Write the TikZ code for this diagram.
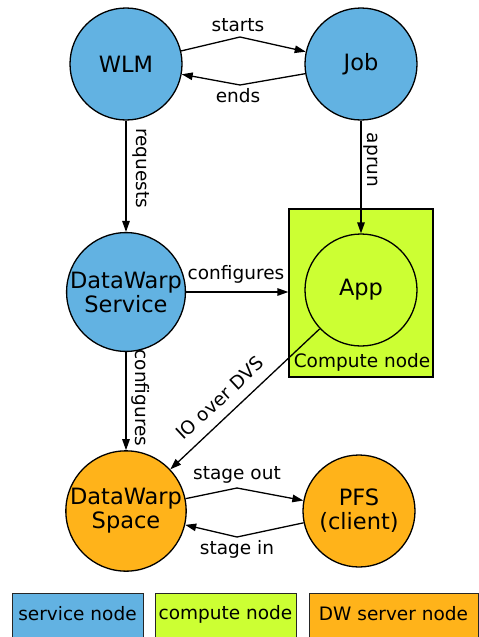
\documentclass[tikz,border=0pt]{standalone}
\usepackage{fontspec}
\setmainfont{DejaVu Sans}
\usetikzlibrary{arrows.meta}
\definecolor{svcblue}{HTML}{62B2E2}
\definecolor{cmplime}{HTML}{CCFF33}
\definecolor{dworange}{HTML}{FFB31A}
\tikzset{
  bignode/.style={circle, draw=black, line width=1.3pt, minimum size=112pt, inner sep=0pt, align=center, font=\fontsize{22.5}{24}\selectfont},
  conn/.style={line width=1.3pt, -{Triangle[length=11pt,width=7.5pt]}},
  elabel/.style={font=\fontsize{18.5}{20}\selectfont, inner sep=0pt},
  legendbox/.style={draw=black!85, line width=1.3pt},
}
\begin{document}
\begin{tikzpicture}[x=1pt,y=-1pt]
\useasboundingbox (0,0) rectangle (479,637);
% compute node box
\node[draw=black, line width=1.3pt, fill=cmplime, minimum width=144pt, minimum height=168pt, inner sep=0pt] (cbox) at (361,293) {};
\node[elabel] (ctext) at (362,362) {Compute node};
% main nodes
\node[bignode, fill=svcblue] (wlm) at (126,64) {WLM};
\node[bignode, fill=svcblue] (job) at (361,64) {Job};
\node[bignode, fill=svcblue] (dws) at (126,292) {DataWarp\\Service};
\node[bignode, fill=cmplime] (app) at (361,290) {App};
\node[bignode, fill=dworange] (dwsp) at (126,511) {DataWarp\\Space};
\node[bignode, fill=dworange] (pfs) at (359,511) {PFS\\(client)};
% bend coordinates
\coordinate (bs) at (240,37);
\coordinate (be) at (240,85);
\coordinate (bo) at (237,488);
\coordinate (bi) at (237,537);
% edges
\draw[line width=1.3pt] (wlm) -- (bs);
\draw[conn] (bs) -- (job);
\draw[line width=1.3pt] (job) -- (be);
\draw[conn] (be) -- (wlm);
\node[elabel] (lstarts) at (238,25) {starts};
\node[elabel] (lends) at (238,96) {ends};
\draw[conn] (wlm) -- (dws);
\node[elabel, rotate=-90] (lreq) at (141,168) {requests};
\draw[conn] (job) -- (app);
\node[elabel, rotate=-90] (laprun) at (371,160) {aprun};
\draw[conn] (dws) -- (cbox.west |- dws);
\node[elabel] (lconf1) at (236,274) {configures};
\draw[conn] (dws) -- (dwsp);
\node[elabel, rotate=-90] (lconf2) at (141,398) {configures};
\draw[conn] (app) -- (dwsp);
\node[elabel, rotate=43] (lio) at (220,398) {IO over DVS};
\draw[line width=1.3pt] (dwsp) -- (bo);
\draw[conn] (bo) -- (pfs);
\draw[line width=1.3pt] (pfs) -- (bi);
\draw[conn] (bi) -- (dwsp);
\node[elabel] (lout) at (237,475) {stage out};
\node[elabel] (lin) at (237,549) {stage in};
% legend
\node[legendbox, fill=svcblue, minimum width=131pt, minimum height=50pt, anchor=north west, inner sep=0pt] (leg1) at (12,593) {};
\node[elabel] (leg1t) at (77.5,614) {service node};
\node[legendbox, fill=cmplime, minimum width=141pt, minimum height=50pt, anchor=north west, inner sep=0pt] (leg2) at (155,593) {};
\node[elabel] (leg2t) at (225.5,614) {compute node};
\node[legendbox, fill=dworange, minimum width=169pt, minimum height=50pt, anchor=north west, inner sep=0pt] (leg3) at (309,593) {};
\node[elabel] (leg3t) at (393.5,614) {DW server node};
\end{tikzpicture}
\end{document}
